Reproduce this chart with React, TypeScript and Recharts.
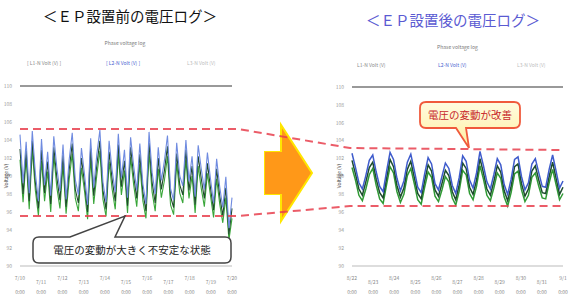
import React from 'react';
import { LineChart, Line, XAxis, YAxis, ReferenceLine } from 'recharts';

const yTicks = [90, 92, 94, 96, 98, 100, 102, 104, 106, 108, 110];

const leftDates = ['7/10', '7/11', '7/12', '7/13', '7/14', '7/15', '7/16', '7/17', '7/18', '7/19', '7/20'];
const leftTimes = ['0:00', '0:00', '0:00', '0:00', '0:00', '0:00', '0:00', '0:00', '0:00', '0:00', '0:00'];
const rightDates = ['8/22', '8/23', '8/24', '8/25', '8/26', '8/27', '8/28', '8/29', '8/30', '8/31', '9/1'];
const rightTimes = ['0:00', '0:00', '0:00', '0:00', '0:00', '0:00', '0:00', '0:00', '0:00', '0:00', '0:00'];

const beforeL1 = [104.6, 99.2, 103.8, 98.1, 105.0, 100.3, 97.2, 104.1, 99.0, 102.7, 97.8, 104.4, 100.9, 98.3, 103.5, 97.4, 101.8, 104.8, 99.6, 97.9, 103.1, 100.2, 96.8, 104.2, 98.7, 102.4, 105.1, 99.3, 97.1, 103.9, 100.6, 98.2, 104.7, 99.8, 102.9, 97.6, 104.3, 101.1, 98.4, 103.6, 99.1, 96.9, 104.9, 100.4, 98.0, 103.2, 99.5, 101.7, 104.5, 98.6, 97.3, 103.7, 100.0, 98.9, 104.0, 99.4, 102.2, 97.7, 103.4, 100.8, 98.5, 102.6, 99.7, 97.0, 101.9, 98.8, 96.5, 99.9, 94.2, 97.6];
const beforeL2 = [103.0, 98.0, 102.8, 97.2, 103.9, 99.3, 96.4, 102.9, 98.1, 101.6, 96.9, 103.2, 99.8, 97.3, 102.3, 96.6, 100.7, 103.6, 98.5, 97.0, 102.0, 99.2, 96.0, 103.1, 97.8, 101.2, 103.9, 98.4, 96.3, 102.7, 99.6, 97.2, 103.5, 98.8, 101.7, 96.7, 103.2, 100.0, 97.5, 102.4, 98.2, 96.1, 103.7, 99.3, 97.0, 102.0, 98.5, 100.6, 103.3, 97.7, 96.5, 102.5, 99.0, 97.9, 102.9, 98.4, 101.1, 96.8, 102.2, 99.7, 97.5, 101.4, 98.7, 96.2, 100.8, 97.8, 95.6, 98.7, 93.5, 96.4];
const beforeL3 = [101.8, 97.1, 102.0, 96.3, 102.9, 98.4, 95.6, 101.7, 97.2, 100.5, 96.0, 102.3, 98.7, 96.4, 101.2, 95.8, 99.6, 102.5, 97.5, 96.1, 100.9, 98.3, 95.2, 102.0, 96.9, 100.1, 102.8, 97.4, 95.5, 101.6, 98.5, 96.3, 102.4, 97.9, 100.6, 95.9, 102.1, 99.0, 96.6, 101.3, 97.2, 95.3, 102.6, 98.2, 96.1, 100.8, 97.6, 99.5, 102.2, 96.8, 95.7, 101.4, 98.1, 97.0, 101.8, 97.5, 100.0, 95.9, 101.1, 98.6, 96.6, 100.3, 97.8, 95.4, 99.7, 96.9, 94.8, 97.6, 92.9, 95.3];

const afterL1 = [102.6, 101.0, 99.3, 98.6, 100.1, 101.8, 102.4, 100.5, 98.9, 98.3, 100.6, 102.7, 101.9, 99.8, 98.4, 99.5, 101.6, 102.5, 100.7, 98.8, 98.2, 100.3, 102.1, 101.4, 99.2, 98.5, 100.0, 101.5, 100.9, 99.0, 98.1, 99.9, 102.3, 101.7, 99.6, 98.7, 100.4, 102.8, 101.2, 99.4, 98.6, 100.2, 102.0, 101.3, 99.1, 98.0, 99.7, 101.9, 102.2, 100.0, 98.5, 99.3, 101.4, 102.0, 100.4, 98.9, 98.8, 100.8, 102.4, 100.6, 98.7, 99.5];
const afterL2 = [101.8, 100.3, 98.6, 97.9, 99.4, 101.0, 101.6, 99.7, 98.2, 97.6, 99.8, 101.9, 101.1, 99.0, 97.7, 98.7, 100.8, 101.7, 99.9, 98.1, 97.5, 99.5, 101.3, 100.6, 98.5, 97.8, 99.2, 100.7, 100.1, 98.3, 97.4, 99.1, 101.5, 100.9, 98.8, 98.0, 99.6, 102.0, 100.4, 98.6, 97.9, 99.4, 101.2, 100.5, 98.4, 97.3, 98.9, 101.1, 101.4, 99.2, 97.8, 98.6, 100.6, 101.2, 99.6, 98.2, 98.1, 100.0, 101.6, 99.8, 98.0, 98.8];
const afterL3 = [101.0, 99.6, 97.9, 97.3, 98.6, 100.2, 100.9, 99.0, 97.5, 97.0, 99.1, 101.1, 100.4, 98.3, 97.1, 98.0, 100.1, 100.9, 99.2, 97.4, 96.9, 98.8, 100.5, 99.9, 97.8, 97.2, 98.5, 100.0, 99.4, 97.6, 96.8, 98.4, 100.7, 100.2, 98.1, 97.4, 98.9, 101.2, 99.7, 97.9, 97.3, 98.7, 100.4, 99.8, 97.7, 96.7, 98.2, 100.3, 100.6, 98.5, 97.2, 97.9, 99.9, 100.4, 98.9, 97.6, 97.5, 99.3, 100.8, 99.1, 97.4, 98.1];

const beforeRows = beforeL1.map((v, i) => ({ i, a: v, b: beforeL2[i], c: beforeL3[i] }));
const afterRows = afterL1.map((v, i) => ({ i, a: v, b: afterL2[i], c: afterL3[i] }));

const tickIdx = (n: number, k: number) => Array.from({ length: k }, (_, j) => ((n - 1) * j) / (k - 1));

const makeTick = (times: string[], dates: string[], ticks: number[]) => (props: any) => {
  const { x, y, payload } = props;
  const idx = ticks.indexOf(payload.value);
  const j = idx < 0 ? 0 : idx;
  return (
    <g>
      <text x={x} y={y + (j % 2 === 0 ? 6 : 10)} textAnchor="middle" fontSize={5} fill="#888">{dates[j]}</text>
      <text x={x} y={y + 20} textAnchor="middle" fontSize={5} fill="#888">{times[j]}</text>
    </g>
  );
};

const font = 'Noto Sans CJK JP, Noto Sans, sans-serif';

function Panel(props: { rows: any[]; width: number; top: number; right: number; times: string[]; dates: string[]; colors: string[]; sw: number }) {
  const { rows, width, top, right, times, dates, colors, sw } = props;
  const ticks = tickIdx(rows.length, 11);
  return (
    <LineChart width={width} height={294} data={rows} margin={{ top, right, bottom: 0, left: 0 }}>
      <XAxis type="number" dataKey="i" domain={[0, rows.length - 1]} ticks={ticks} height={28}
        axisLine={{ stroke: '#bbb' }} tickLine={false} tick={makeTick(times, dates, ticks)} interval={0} />
      <YAxis type="number" domain={[90, 110]} ticks={yTicks} width={20} axisLine={false} tickLine={false}
        tick={{ fontSize: 5, fill: '#999' }} interval={0} />
      <ReferenceLine y={110} stroke="#777" strokeWidth={1.5} />
      <Line dataKey="c" stroke={colors[2]} strokeWidth={sw} dot={false} isAnimationActive={false} />
      <Line dataKey="b" stroke={colors[1]} strokeWidth={sw} dot={false} isAnimationActive={false} />
      <Line dataKey="a" stroke={colors[0]} strokeWidth={sw} dot={false} isAnimationActive={false} />
    </LineChart>
  );
}

const abs = (l: number, t: number, extra: any = {}) => ({ position: 'absolute' as const, left: l, top: t, ...extra });

export default function App() {
  return (
    <div style={{ position: 'fixed', left: 0, top: 0, width: 569, height: 294, background: '#fff', overflow: 'hidden', fontFamily: font }}>
      <div style={abs(0, 0)}>
        <Panel rows={beforeRows} width={240} top={86} right={8} times={leftTimes} dates={leftDates} colors={['#6f8be0', '#1f4a2c', '#3aa63a']} sw={1.1} />
      </div>
      <div style={abs(332, 0)}>
        <Panel rows={afterRows} width={237} top={87} right={6} times={rightTimes} dates={rightDates} colors={['#3f5ccc', '#1d4d2d', '#2f9a34']} sw={1.5} />
      </div>

      <div style={abs(20, 5, { width: 220, textAlign: 'center', fontSize: 14.5, color: '#111', whiteSpace: 'nowrap' })}>＜ＥＰ設置前の電圧ログ＞</div>
      <div style={abs(343, 9, { width: 220, textAlign: 'center', fontSize: 14.5, color: '#5a5ad2', whiteSpace: 'nowrap' })}>＜ＥＰ設置後の電圧ログ＞</div>

      <div style={abs(20, 39, { width: 210, textAlign: 'center', fontSize: 5, color: '#777' })}>Phase voltage log</div>
      <div style={abs(352, 43, { width: 211, textAlign: 'center', fontSize: 5, color: '#777' })}>Phase voltage log</div>

      <div style={abs(27, 59, { fontSize: 5, color: '#888' })}>[ L1-N Volt (V) ]</div>
      <div style={abs(106, 59, { fontSize: 5, color: '#4a5fd0' })}>[ L2-N Volt (V) ]</div>
      <div style={abs(187, 59, { fontSize: 5, color: '#bbb' })}>L3-N Volt (V)</div>
      <div style={abs(357, 61, { fontSize: 5, color: '#888' })}>L1-N Volt (V)</div>
      <div style={abs(438, 61, { fontSize: 5, color: '#4a5fd0' })}>L2-N Volt (V)</div>
      <div style={abs(517, 61, { fontSize: 5, color: '#bbb' })}>L3-N Volt (V)</div>

      <svg width={569} height={294} style={abs(0, 0, { pointerEvents: 'none' })}>
        <text transform="translate(8,176) rotate(-90)" textAnchor="middle" fontSize={5} fill="#444">Voltage (V)</text>
        <text transform="translate(341,176) rotate(-90)" textAnchor="middle" fontSize={5} fill="#444">Voltage (V)</text>

        {/* arrow */}
        <polygon points="265,152 281,152 281,125 312,173 281,221 281,194 265,194" fill="#ff9818" stroke="#ffe600" strokeWidth={2} strokeLinejoin="miter" />
        <polygon points="265,152 282,152 282,194 265,194" fill="#ff9818" />

        {/* dashed guide lines */}
        <polyline points="20,129 238,129 350,148 563,150" fill="none" stroke="#e8404e" strokeWidth={2} strokeDasharray="8 5" opacity={0.85} />
        <polyline points="20,216 238,216 350,206 563,206" fill="none" stroke="#e8404e" strokeWidth={2} strokeDasharray="8 5" opacity={0.85} />

        {/* left callout */}
        <path d="M 39 237 L 70 237 L 125 216 L 115 237 L 225 237 Q 231 237 231 243 L 231 257 Q 231 263 225 263 L 39 263 Q 33 263 33 257 L 33 243 Q 33 237 39 237 Z"
          fill="#fff" stroke="#444" strokeWidth={1.5} />
        <text x={132} y={254} textAnchor="middle" fontSize={10.5} fill="#222" fontFamily={font}>電圧の変動が大きく不安定な状態</text>

        {/* right callout */}
        <defs>
          <linearGradient id="yel" x1="0" y1="0" x2="0" y2="1">
            <stop offset="0" stopColor="#fffbe0" />
            <stop offset="1" stopColor="#fff0a0" />
          </linearGradient>
        </defs>
        <path d="M 426 102 L 514 102 Q 520 102 520 108 L 520 122 Q 520 128 514 128 L 466 128 L 469 148 L 456 128 L 426 128 Q 420 128 420 122 L 420 108 Q 420 102 426 102 Z"
          fill="url(#yel)" stroke="#f05a3c" strokeWidth={1.8} />
        <text x={470} y={119} textAnchor="middle" fontSize={10.5} fill="#c8282c" fontFamily={font}>電圧の変動が改善</text>
      </svg>
    </div>
  );
}
